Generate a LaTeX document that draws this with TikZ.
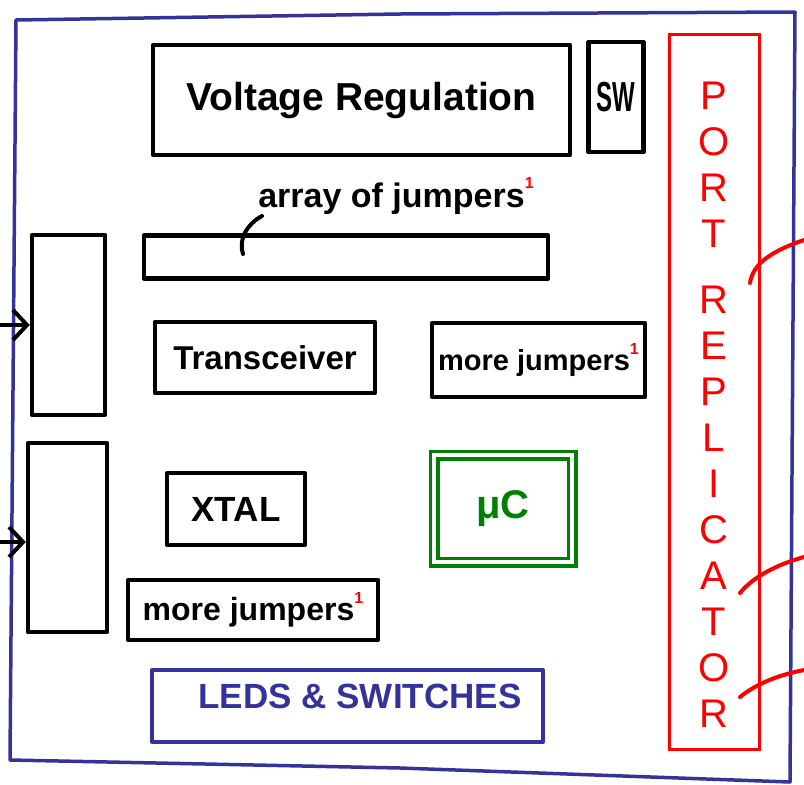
\documentclass[tikz,border=0pt]{standalone}
\usepackage{fontspec}
\setmainfont{Liberation Sans}
\usetikzlibrary{arrows.meta}
\definecolor{bluepen}{RGB}{51,51,153}
\definecolor{redpen}{RGB}{255,0,0}
\definecolor{greenpen}{RGB}{0,128,0}
\newcommand{\fnote}{\raisebox{0.55em}{\fontsize{16}{16}\selectfont\bfseries\color{redpen}1}}
\newcommand{\fsz}[1]{\fontsize{#1}{#1}\selectfont\bfseries}
\begin{document}
\begin{tikzpicture}[x=1pt,y=-1pt,
  blk/.style={draw=black, line width=4.5pt, inner sep=0pt, line join=round, text=black},
  leds/.style={draw=bluepen, line width=4pt, inner sep=0pt, line join=round},
  frame/.style={draw=bluepen, line width=3.5pt, line join=round},
  porty/.style={draw=redpen, line width=3pt, inner sep=0pt},
  tick/.style={draw=redpen, line width=4pt, line cap=round},
  mcu/.style={draw=greenpen, line width=3.5pt, double=white, double distance=4pt, inner sep=0pt, text=greenpen},
  inarrow/.style={draw=black, line width=4pt, -{Straight Barb[length=14pt,width=30pt,line width=4pt]}},
  lead/.style={draw=black, line width=4pt, line cap=round}]
\useasboundingbox (0,0) rectangle (804,785);

% outer board frame
\draw[frame] (16,20) -- (400,14) -- (795,12) -- (790,782) -- (400,768) -- (10,760) -- cycle;

% top row
\node[blk, minimum width=417pt, minimum height=110pt, font=\fsz{39}] (vreg) at (361.5,100) {Voltage Regulation};
\node[blk, minimum width=55pt, minimum height=110pt] (sw) at (616,97) {\scalebox{0.8}[1.4]{\fsz{30}SW}};

% port replicator
\node[porty, minimum width=90pt, minimum height=715pt] (port) at (714,392) {};
\node[text=redpen, align=center, font={\fontsize{40}{46}\selectfont}, inner sep=0pt] (porttxt) at (714,405)
  {P\\O\\R\\T\\[20pt]R\\E\\P\\L\\I\\C\\A\\T\\O\\R};
\coordinate (t1) at (804,240);
\coordinate (t2) at (804,557);
\coordinate (t3) at (804,670);
\draw[tick] (750,283) .. controls (753,262) and (775,250) .. (t1);
\draw[tick] (740,593) .. controls (752,578) and (775,565) .. (t2);
\draw[tick] (740,697) .. controls (756,684) and (778,675) .. (t3);

% jumper array
\node[font=\fsz{34}, inner sep=0pt] (arr) at (396,196) {array of jumpers\fnote};
\node[blk, minimum width=404pt, minimum height=43pt] (jbar) at (346,257) {};
\coordinate (leadend) at (243,254);
\draw[lead] (262,216) .. controls (247,224) and (238,240) .. (leadend);

% left connector boxes
\node[blk, minimum width=73pt, minimum height=180pt] (lb1) at (68.5,325) {};
\node[blk, minimum width=79pt, minimum height=189pt] (lb2) at (67.5,537.5) {};
\coordinate (in1) at (0,325);
\coordinate (in2) at (0,542);
\draw[inarrow] (in1) -- (lb1.west);
\draw[inarrow] (in2) -- (in2 -| lb2.west);

% middle blocks
\node[blk, minimum width=220pt, minimum height=71pt, font=\fsz{33}] (xcvr) at (265,357.5) {Transceiver};
\node[blk, minimum width=213pt, minimum height=74pt, font=\fsz{29}] (mj1) at (538.5,360) {more jumpers\fnote};
\node[blk, minimum width=138pt, minimum height=72pt, font=\fsz{35}] (xtal) at (236,509) {XTAL};
\node[mcu, minimum width=138pt, minimum height=107pt, font=\fsz{40}] (uc) at (503,508.5) {μC};
\node[blk, minimum width=250pt, minimum height=60pt, font=\fsz{32}] (mj2) at (253,610) {more jumpers\fnote};

% LEDs and switches
\node[leds, minimum width=391pt, minimum height=72pt] (ledbox) at (347.5,706) {};
\node[text=bluepen, font=\fsz{35}, inner sep=0pt] (ledtxt) at (360,696) {LEDS \& SWITCHES};
\end{tikzpicture}
\end{document}
